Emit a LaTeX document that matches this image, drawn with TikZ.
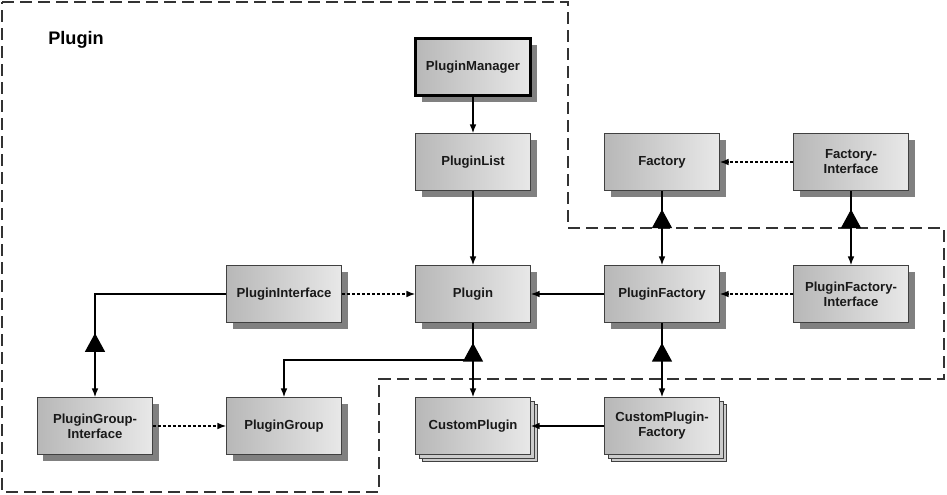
\documentclass[tikz,border=0pt]{standalone}
\usepackage{fontspec}
\setmainfont{Liberation Sans}
\usepackage{tikz}
\usetikzlibrary{arrows.meta,positioning,calc,shadows,decorations.markings}

\begin{document}
\begin{tikzpicture}[x=0.03cm, y=-0.03cm, >=Latex]
        \tikzset{
            cls/.style={draw=black!75, line width=0.6pt, rectangle, minimum height=17.1mm, minimum width=34.5mm, align=center, shading=axis, left color=black!28, right color=black!9, shading angle=90, text=black!90, font=\bfseries\fontsize{11.2}{12.8}\selectfont, general shadow={fill=black!50, shadow xshift=1.8mm, shadow yshift=-1.8mm}},
            mgr/.style={cls, draw=black, line width=2.4pt},
            stack/.style={draw=black!75, line width=0.6pt, rectangle, minimum height=17.1mm, minimum width=34.5mm, align=center, shading=axis, left color=black!28, right color=black!9, shading angle=90, text=black!90, font=\bfseries\fontsize{11.2}{12.8}\selectfont, double copy shadow={shadow xshift=1.05mm, shadow yshift=-1.05mm, fill=black!20, draw=black!75}},
            line/.style={draw, -{Latex[length=2.6mm,width=2mm]}, line width=1.1pt},
            dotline/.style={draw, -{Latex[length=2.6mm,width=2mm]}, line width=1.1pt, dash pattern=on 0.9mm off 0.6mm},
            inh/.style={draw, {Latex[length=2.6mm,width=2mm]}-, line width=1.1pt, postaction={decorate, decoration={markings, mark=at position #1 with {\arrow{Triangle[length=5.6mm,width=6mm]}}}}},
            region/.style={draw=black!80, line width=1.3pt, dash pattern=on 3.6mm off 1.8mm}
        }
        \useasboundingbox (0,0) rectangle (947,494);

        % Package boundary
        \draw[region] (2,2) -- (568,2) -- (568,228) -- (944,228) -- (944,379) -- (379,379) -- (379,492) -- (2,492) -- cycle;
        \node[font=\bfseries\fontsize{15.5}{18}\selectfont] (title) at (76,40) {Plugin};

        % Plugin core
        \node[mgr] (pm) at (473,67) {PluginManager};
        \node[cls] (pl) at (473,162) {PluginList};
        \node[cls] (p) at (473,294) {Plugin};
        \node[cls] (pi) at (284,294) {PluginInterface};
        \node[cls] (pgi) at (95,426) {PluginGroup-\\Interface};
        \node[cls] (pg) at (284,426) {PluginGroup};

        % Factories
        \node[cls] (f) at (662,162) {Factory};
        \node[cls] (fi) at (851,162) {Factory-\\Interface};
        \node[cls] (pf) at (662,294) {PluginFactory};
        \node[cls] (pfi) at (851,294) {PluginFactory-\\Interface};

        % Custom implementations
        \node[stack] (cp) at (473,426) {CustomPlugin};
        \node[stack] (cpf) at (662,426) {CustomPlugin-\\Factory};

        % Associations
        \path[line] (pm) -- (pl);
        \path[line] (pl) -- (p);
        \path[line] (pf) -- (p);
        \path[line] (cpf) -- (cp);

        % Realisations
        \path[dotline] (pi) -- (p);
        \path[dotline] (fi) -- (f);
        \path[dotline] (pfi) -- (pf);
        \path[dotline] (pgi) -- (pg);

        % Inheritance
        \path[inh=0.75] (pf.north) -- (f.south);
        \path[inh=0.75] (pfi.north) -- (fi.south);
        \path[inh=0.73] (cp.north) -- (p.south);
        \path[inh=0.73] (cpf.north) -- (pf.south);
        \path[inh=0.273] (pgi.north) |- (pi.west);
        \coordinate (br) at (473,360);
        \path[line] (br) -| (pg.north);

    \end{tikzpicture}
\end{document}
